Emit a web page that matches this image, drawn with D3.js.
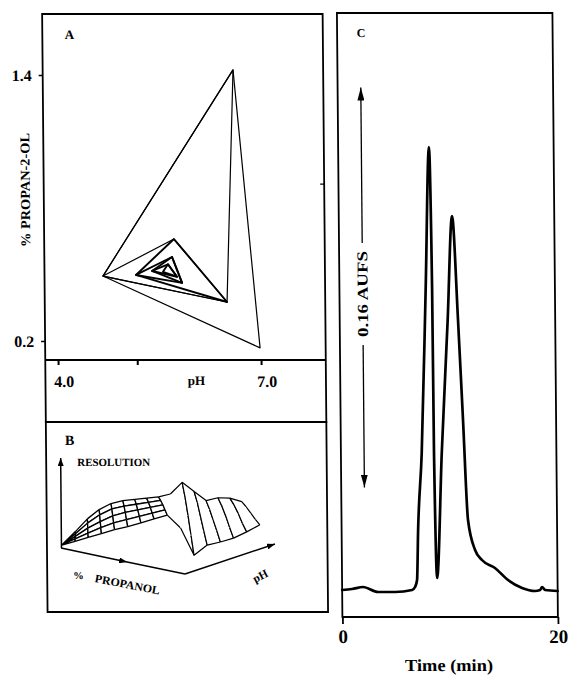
<!DOCTYPE html>
<html>
<head>
    <script src="https://cdnjs.cloudflare.com/ajax/libs/d3/7.8.5/d3.min.js"></script>
    <style>
        body, html { margin: 0; padding: 0; background: #fff; }
        svg { display: block; }
        text { font-family: "Liberation Serif", "DejaVu Serif", serif; font-weight: bold; fill: #000; }
    </style>
</head>
<body>
    <svg></svg>
    <script>
        const width = 570, height = 677;

        // ---- panel A: simplex path in (pH, % propan-2-ol) ----
        const vertexPH   = [4.675, 6.987, 6.624, 6.505, 5.729, 5.163, 5.698, 5.843, 5.401, 5.637, 5.562, 5.769];
        const vertexProp = [0.493, 0.169, 1.423, 0.376, 0.660, 0.498, 0.579, 0.462, 0.516, 0.546, 0.512, 0.490];
        const simplexTriangles = [[0, 1, 2], [0, 2, 3], [0, 3, 4], [5, 4, 3], [5, 6, 7], [8, 6, 7], [8, 9, 11], [10, 9, 11]];
        const pHTicks = [4.0, 5.17, 7.0];
        const pHLabels = [4.0, 7.0];
        const propTicks = [0.2, 1.4];
        const propRightTicks = [0.91];

        // ---- panel B: resolution surface ----
        const surfPH = [4.0, 4.2, 4.4, 4.6, 4.8, 5.0, 5.2, 5.4, 5.6, 5.8, 6.0, 6.2, 6.4, 6.6, 6.8, 7.0];
        const surfProp = [1.4, 1.1, 0.8, 0.5, 0.2];   // front row first
        const surfRes = [
            [0.31, 0.34, 0.37, 0.40, 0.43, 0.45, 0.48, 0.51, 0.54, 0.36, 0.00, 0.11, 0.13, 0.16, 0.22, 0.29],
            [0.31, 0.36, 0.41, 0.46, 0.50, 0.52, 0.54, 0.56, 0.58, 0.48, 0.22, 0.25, 0.24, 0.26, 0.29, 0.32],
            [0.30, 0.38, 0.46, 0.52, 0.57, 0.59, 0.60, 0.61, 0.62, 0.58, 0.44, 0.40, 0.34, 0.37, 0.38, 0.36],
            [0.30, 0.40, 0.51, 0.59, 0.64, 0.65, 0.65, 0.65, 0.65, 0.65, 0.64, 0.55, 0.44, 0.46, 0.45, 0.40],
            [0.30, 0.42, 0.55, 0.64, 0.69, 0.70, 0.69, 0.68, 0.67, 0.68, 0.80, 0.66, 0.52, 0.53, 0.50, 0.43]
        ];

        // ---- panel C: chromatogram ----
        const timeMin = [0, 0.92, 1.94, 3.33, 4.91, 6.49, 6.77, 6.96, 7.1, 7.5, 8.01, 8.43, 8.6, 8.64, 8.82,
                         9.36, 10.02, 10.51, 10.98, 11.36, 11.74, 12.37, 13.0, 14.2, 15.4, 16.7, 17.9, 18.37, 18.56, 18.84, 20];
        const absorbance = [0, 0.0004, 0.0012, -0.0008, -0.0008, 0, 0.0012, 0.004, 0.024, 0.0548, 0.1212, 0.1772, 0.1212, 0.0548, 0.0048,
                            0.0548, 0.108, 0.1496, 0.108, 0.068, 0.028, 0.016, 0.012, 0.0088, 0.004, 0.0008, -0.0004, 0, 0.0012, 0, -0.0004];
        const timeTicks = [0, 20];
        const aufsBase = 0.041, aufsSpan = 0.16;

        const svg = d3.select("svg").attr("width", width).attr("height", height);

        const defs = svg.append("defs");
        function marker(id, w, l) {
            defs.append("marker").attr("id", id)
                .attr("viewBox", `${-l} ${-w} ${l + 1} ${2 * w}`)
                .attr("refX", 0).attr("refY", 0)
                .attr("markerWidth", l + 1).attr("markerHeight", 2 * w)
                .attr("markerUnits", "userSpaceOnUse")
                .attr("orient", "auto")
                .append("path").attr("d", `M0,0L${-l},${-w}L${-l},${w}Z`).attr("fill", "#000");
        }
        marker("headC", 3.5, 13);
        marker("headB", 3, 8);

        // the scan is slightly sheared
        const root = svg.append("g").attr("transform", "skewX(0.52)");

        // ================= PANEL A =================
        const gA = root.append("g");
        const xA = d3.scaleLinear().domain([4, 7]).range([54.8, 257.8]);
        const yA = d3.scaleLinear().domain([0.2, 1.4]).range([341, 75]);

        gA.append("rect").attr("x", 42).attr("y", 14).attr("width", 280.5).attr("height", 408)
            .attr("fill", "none").attr("stroke", "#000").attr("stroke-width", 1.8);
        gA.append("line").attr("x1", 42).attr("x2", 322.5).attr("y1", 360).attr("y2", 360)
            .attr("stroke", "#000").attr("stroke-width", 2.2);

        const axL = gA.append("g").attr("transform", "translate(42,0)")
            .call(d3.axisLeft(yA).tickValues(propTicks).tickSize(4).tickPadding(7).tickFormat(d3.format(".1f")));
        axL.select(".domain").remove();
        axL.selectAll("line").attr("stroke-width", 1.6);
        axL.selectAll("text").attr("font-size", 16).attr("font-family", null);

        const axR = gA.append("g").attr("transform", "translate(322.5,0)")
            .call(d3.axisLeft(yA).tickValues(propRightTicks).tickSize(4).tickFormat(""));
        axR.select(".domain").remove();
        axR.selectAll("line").attr("stroke-width", 1.4);

        const axB = gA.append("g").attr("transform", "translate(0,360)")
            .call(d3.axisBottom(xA).tickValues(pHTicks).tickSize(5).tickFormat(""));
        axB.select(".domain").remove();
        axB.selectAll("line").attr("stroke-width", 2);

        gA.selectAll(".phlab").data(pHLabels).join("text").attr("class", "phlab")
            .attr("x", d => xA(d) + 6).attr("y", 387).attr("text-anchor", "middle")
            .attr("font-size", 16).text(d => d.toFixed(1));
        gA.append("text").attr("x", 193).attr("y", 385).attr("text-anchor", "middle")
            .attr("font-size", 13).text("pH");
        gA.append("text").attr("x", 64.5).attr("y", 39).attr("font-size", 13).text("A");
        gA.append("text").attr("transform", "translate(28,190) rotate(-90)")
            .attr("text-anchor", "middle").attr("font-size", 13.5)
            .attr("textLength", 114).attr("lengthAdjust", "spacingAndGlyphs")
            .text("% PROPAN-2-OL");

        const lineA = d3.line().x(i => xA(vertexPH[i])).y(i => yA(vertexProp[i])).curve(d3.curveLinearClosed);
        gA.selectAll(".tri").data(simplexTriangles).join("path").attr("class", "tri")
            .attr("d", t => lineA(t)).attr("fill", "none").attr("stroke", "#000")
            .attr("stroke-linejoin", "round")
            .attr("stroke-width", (t, i) => i < 3 ? 1.2 : 1.9);

        // ================= PANEL B =================
        const gB = root.append("g");
        gB.append("rect").attr("x", 42).attr("y", 422).attr("width", 280.5).attr("height", 190)
            .attr("fill", "none").attr("stroke", "#000").attr("stroke-width", 1.8);
        gB.append("text").attr("x", 61).attr("y", 445).attr("font-size", 14).text("B");
        gB.append("text").attr("x", 73).attr("y", 466).attr("font-size", 11)
            .attr("textLength", 73).attr("lengthAdjust", "spacingAndGlyphs").text("RESOLUTION");

        // floor axes
        gB.append("line").attr("x1", 56.5).attr("y1", 548).attr("x2", 56.5).attr("y2", 458)
            .attr("stroke", "#000").attr("stroke-width", 1.5).attr("marker-end", "url(#headB)");
        gB.append("polyline").attr("points", "56.1,548 122,562 179.8,574")
            .attr("fill", "none").attr("stroke", "#000").attr("stroke-width", 1.5).attr("marker-mid", "url(#headB)");
        gB.append("line").attr("x1", 179.8).attr("y1", 574).attr("x2", 270).attr("y2", 544)
            .attr("stroke", "#000").attr("stroke-width", 1.5).attr("marker-end", "url(#headB)");
        gB.append("text").attr("x", 68).attr("y", 579).attr("font-size", 10.5).text("%");
        gB.append("text").attr("transform", "translate(89,582) rotate(11)").attr("font-size", 11.5)
            .attr("textLength", 66).attr("lengthAdjust", "spacingAndGlyphs").text("PROPANOL");
        gB.append("text").attr("transform", "translate(250,583) rotate(-27)").attr("font-size", 11.5).text("pH");

        // surface projection: bilinear floor + height
        const FL = [56.9, 570], FR = [255.1, 548], BL = [58.9, 567], BR = [237.2, 536];
        const uS = d3.scaleLinear().domain([4, 7]).range([0, 1]);
        const vS = d3.scaleLinear().domain([1.4, 0.2]).range([0, 1]);
        const zS = d3.scaleLinear().domain([0, 1]).range([0, 80]);
        function proj(ci, ri) {
            const u = uS(surfPH[ci]), v = vS(surfProp[ri]);
            const k = [(1 - u) * (1 - v), u * (1 - v), (1 - u) * v, u * v];
            const x = k[0] * FL[0] + k[1] * FR[0] + k[2] * BL[0] + k[3] * BR[0];
            const y = k[0] * FL[1] + k[1] * FR[1] + k[2] * BL[1] + k[3] * BR[1];
            return [x, y - zS(surfRes[ri][ci])];
        }
        const quads = [];
        for (let ri = surfProp.length - 2; ri >= 0; ri--) {
            for (let ci = 0; ci < surfPH.length - 1; ci++) quads.push({ ci, ri });
        }
        const gS = gB.append("g");
        const lastRow = surfProp.length - 1;
        quads.forEach(q => {
            const { ci, ri } = q;
            const a = proj(ci, ri), b = proj(ci + 1, ri), c = proj(ci + 1, ri + 1), d = proj(ci, ri + 1);
            gS.append("path").attr("d", `M${a}L${b}L${c}L${d}Z`).attr("fill", "#fff").attr("stroke", "none");
            const mesh = surfPH[ci + 1] <= 5.6;
            const side = p => p <= 5.6 || p >= 6.0;
            let e = "";
            if (mesh || ri === 0) e += `M${a}L${b}`;
            if (mesh || ri + 1 === lastRow) e += `M${d}L${c}`;
            if (mesh || side(surfPH[ci])) e += `M${a}L${d}`;
            if (mesh || side(surfPH[ci + 1])) e += `M${b}L${c}`;
            if (e) gS.append("path").attr("d", e).attr("fill", "none").attr("stroke", "#000")
                .attr("stroke-width", mesh ? 1.3 : 1.2).attr("stroke-linejoin", "round");
        });

        // ================= PANEL C =================
        const gC = root.append("g");
        const xC = d3.scaleLinear().domain([0, 20]).range([336.8, 552.3]);
        const yC = d3.scaleLinear().domain([0, 0.16]).range([590, 190]);

        gC.append("rect").attr("x", 336.8).attr("y", 13).attr("width", 215.5).attr("height", 604)
            .attr("fill", "none").attr("stroke", "#000").attr("stroke-width", 1.8);
        const axC = gC.append("g").attr("transform", "translate(0,617)")
            .call(d3.axisBottom(xC).tickValues(timeTicks).tickSize(7).tickFormat(d3.format("d")));
        axC.select(".domain").remove();
        axC.selectAll("line").attr("stroke-width", 1.8);
        axC.selectAll("text").attr("font-size", 19).attr("font-family", null).attr("y", 26).attr("dy", 0);
        gC.append("text").attr("x", 443).attr("y", 671).attr("text-anchor", "middle").attr("font-size", 17)
            .attr("textLength", 88).attr("lengthAdjust", "spacingAndGlyphs").text("Time (min)");
        gC.append("text").attr("x", 356.5).attr("y", 37).attr("font-size", 12).text("C");

        // 0.16 AUFS scale arrow
        const arrowX = 360;
        const yTop = yC(aufsBase + aufsSpan), yBot = yC(aufsBase);
        gC.append("line").attr("x1", arrowX).attr("x2", arrowX).attr("y1", 243).attr("y2", yTop)
            .attr("stroke", "#000").attr("stroke-width", 1.3).attr("marker-end", "url(#headC)");
        gC.append("line").attr("x1", arrowX).attr("x2", arrowX).attr("y1", 345).attr("y2", yBot)
            .attr("stroke", "#000").attr("stroke-width", 1.3).attr("marker-end", "url(#headC)");
        gC.append("text").attr("transform", `translate(${arrowX + 5},294) rotate(-90)`)
            .attr("text-anchor", "middle").attr("font-size", 15)
            .attr("textLength", 86).attr("lengthAdjust", "spacingAndGlyphs").text("0.16 AUFS");

        const lineC = d3.line().x((d, i) => xC(timeMin[i])).y((d, i) => yC(absorbance[i])).curve(d3.curveMonotoneX);
        gC.append("path").attr("d", lineC(timeMin)).attr("fill", "none").attr("stroke", "#000")
            .attr("stroke-width", 2.7).attr("stroke-linejoin", "round").attr("stroke-linecap", "round");
    </script>
</body>
</html>
